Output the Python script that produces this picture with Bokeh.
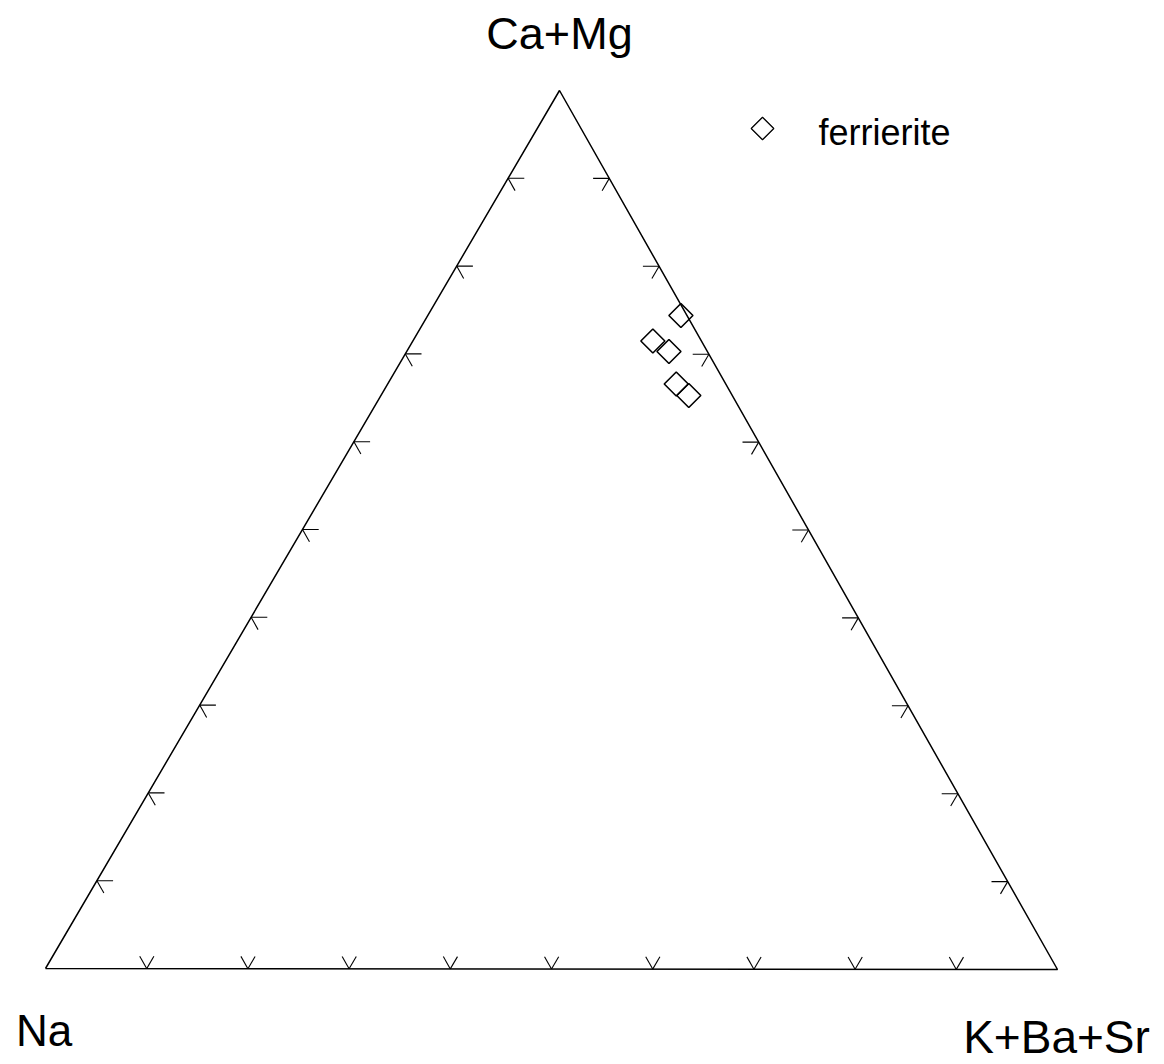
from bokeh.plotting import figure
from bokeh.models import Range1d, ColumnDataSource
from bokeh.core.properties import value
from bokeh.embed import file_html
from bokeh.resources import INLINE
import numpy as np

# Ternary compositions (atomic fractions) of ferrierite analyses
na = [0.006, 0.048, 0.038, 0.049, 0.043]
k_ba_sr = [0.250, 0.237, 0.259, 0.285, 0.304]
ca_mg = [0.744, 0.715, 0.703, 0.666, 0.653]

series_name = "ferrierite"
corner_labels = ["Na", "K+Ba+Sr", "Ca+Mg"]
tick_fractions = [0.1, 0.2, 0.3, 0.4, 0.5, 0.6, 0.7, 0.8, 0.9]

W, H = 1164, 1064
# corner positions of the triangle in canvas units (y upward)
V_NA = (45.0, 96.0)
V_K = (1057.0, 95.0)
V_CA = (559.0, 974.0)


def tern(a_na, a_k, a_ca):
    a_na, a_k, a_ca = np.asarray(a_na, float), np.asarray(a_k, float), np.asarray(a_ca, float)
    s = a_na + a_k + a_ca
    a_na, a_k, a_ca = a_na / s, a_k / s, a_ca / s
    x = a_na * V_NA[0] + a_k * V_K[0] + a_ca * V_CA[0]
    y = a_na * V_NA[1] + a_k * V_K[1] + a_ca * V_CA[1]
    return x, y


p = figure(width=W, height=H, output_backend="svg", toolbar_location=None,
           x_range=Range1d(0, W), y_range=Range1d(0, H), min_border=0)
p.axis.visible = False
p.grid.visible = False
p.outline_line_color = None
p.background_fill_color = "white"

# triangle outline
tx, ty = tern([1, 0, 0, 1], [0, 1, 0, 0], [0, 0, 1, 0])
p.line(list(tx), list(ty), line_color="black", line_width=1.5)

# tick marks drawn along the two grid directions at each edge point
L1 = 0.016  # along the horizontal grid direction
L2 = 0.014  # along the slanted grid direction
xs, ys = [], []
for t in tick_fractions:
    # left edge: Na-Ca (K = 0)
    a = (1 - t, 0.0, t)
    for b in [(1 - t - L1, L1, t), (1 - t, L2, t - L2)]:
        x, y = tern(*zip(a, b))
        xs.append(list(x)); ys.append(list(y))
    # right edge: K-Ca (Na = 0)
    a = (0.0, 1 - t, t)
    for b in [(L1, 1 - t - L1, t), (L2, 1 - t, t - L2)]:
        x, y = tern(*zip(a, b))
        xs.append(list(x)); ys.append(list(y))
    # bottom edge: Na-K (Ca = 0)
    a = (1 - t, t, 0.0)
    for b in [(1 - t, t - L2, L2), (1 - t - L2, t, L2)]:
        x, y = tern(*zip(a, b))
        xs.append(list(x)); ys.append(list(y))
p.multi_line(xs, ys, line_color="black", line_width=1.1)

# data points
px, py = tern(na, k_ba_sr, ca_mg)
src = ColumnDataSource(dict(x=px, y=py))
p.scatter("x", "y", source=src, marker="square", size=17, angle=np.pi / 4,
          fill_color=None, line_color="black", line_width=1.6)

# legend entry
p.scatter([762], [H - 128], marker="square", size=16, angle=np.pi / 4,
          fill_color=None, line_color="black", line_width=1.3)
p.text([818], [H - 132], text=[series_name], text_font=value("Liberation Sans"),
       text_font_size="36px", text_color="black", text_baseline="alphabetic",
       text_align="left")

# corner labels
p.text([43.5, 1056], [H - 1030, H - 1036], text=corner_labels[:2],
       text_font=value("Liberation Sans"), text_font_size=["44px", "46px"],
       text_color="black", text_baseline="alphabetic", text_align="center")
p.text([559], [H - 33], text=corner_labels[2:],
       text_font=value("Liberation Sans"), text_font_size="45px",
       text_color="black", text_baseline="alphabetic", text_align="center")

open("out.html", "w").write(file_html(p, INLINE))
